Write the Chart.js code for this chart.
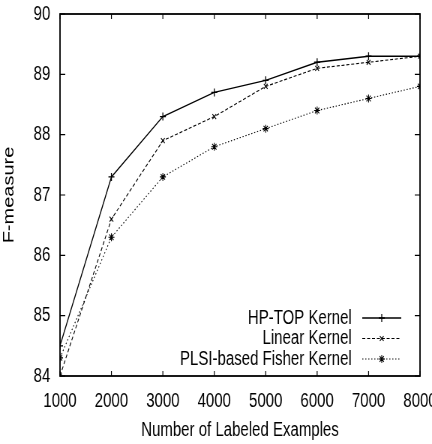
<!DOCTYPE html>
<html>
<head>
<meta charset="utf-8">
<script src="https://cdn.jsdelivr.net/npm/chart.js@4"></script>
<style>
	html, body { margin: 0; padding: 0; background: #fff; overflow: hidden; }
	/* drawn 576 wide then squeezed to 432, like the narrow original */
	#wrap { width: 576px; height: 444px; transform: scaleX(0.75); transform-origin: 0 0; }
</style>
</head>
<body>
<div id="wrap"><canvas id="chart-fmeasure"></canvas></div>
<script>
const EXAMPLES = [1000, 2000, 3000, 4000, 5000, 6000, 7000, 8000];
const HP_TOP = [84.5, 87.3, 88.3, 88.7, 88.9, 89.2, 89.3, 89.3];
const LINEAR = [84.0, 86.6, 87.9, 88.3, 88.8, 89.1, 89.2, 89.3];
const PLSI_FISHER = [84.3, 86.3, 87.3, 87.8, 88.1, 88.4, 88.6, 88.8];
const X_TICKS = [1000, 2000, 3000, 4000, 5000, 6000, 7000, 8000];
const Y_TICKS = [84, 85, 86, 87, 88, 89, 90];

const FONT = "'Liberation Sans', Arial, sans-serif";

const toPoints = (vals) => EXAMPLES.map((x, i) => ({ x: x, y: vals[i] }));

//------------------------------------------------------------
// Frame with inward ticks on all sides + gnuplot-like legend
//------------------------------------------------------------
const frameAndLegend = {
	id: "frameAndLegend",
	afterDatasetsDraw(chart) {
		const { ctx, chartArea: a, scales } = chart;
		ctx.save();
		ctx.strokeStyle = "#000";
		ctx.lineWidth = 1.8;
		ctx.strokeRect(a.left, a.top, a.right - a.left, a.bottom - a.top);
		ctx.lineWidth = 1.2;
		ctx.beginPath();
		X_TICKS.forEach((v) => {
			const px = scales.x.getPixelForValue(v);
			ctx.moveTo(px, a.bottom); ctx.lineTo(px, a.bottom - 5);
			ctx.moveTo(px, a.top); ctx.lineTo(px, a.top + 5);
		});
		Y_TICKS.forEach((v) => {
			const py = scales.y.getPixelForValue(v);
			ctx.moveTo(a.left, py); ctx.lineTo(a.left + 7, py);
			ctx.moveTo(a.right, py); ctx.lineTo(a.right - 7, py);
		});
		ctx.stroke();

		// legend, text right-aligned with a line sample to the right
		const textRight = a.right - 91;
		const lineL = a.right - 77;
		const lineR = a.right - 25;
		const rowH = 20.5;
		const y0 = a.bottom - 58;
		ctx.font = "20px " + FONT;
		ctx.textAlign = "right";
		ctx.textBaseline = "middle";
		ctx.fillStyle = "#000";
		chart.data.datasets.forEach((ds, i) => {
			const y = y0 + i * rowH;
			ctx.fillText(ds.label, textRight, y);
			ctx.beginPath();
			ctx.setLineDash(ds.borderDash || []);
			ctx.lineWidth = ds.borderWidth;
			ctx.moveTo(lineL, y); ctx.lineTo(lineR, y);
			ctx.stroke();
			ctx.setLineDash([]);
			Chart.helpers.drawPoint(ctx, { pointStyle: ds.pointStyle, radius: ds.pointRadius, borderWidth: 1.2 }, (lineL + lineR) / 2, y);
		});
		ctx.restore();
	},
};

const CHART_DATA = {
	datasets: [
		{
			label: "HP-TOP Kernel",
			data: toPoints(HP_TOP),
			borderColor: "#000",
			backgroundColor: "#000",
			borderWidth: 1.3,
			pointStyle: "cross",
			pointRadius: 4,
		},
		{
			label: "Linear Kernel",
			data: toPoints(LINEAR),
			borderColor: "#000",
			backgroundColor: "#000",
			borderWidth: 1.1,
			borderDash: [4, 2.5],
			pointStyle: "crossRot",
			pointRadius: 3.5,
		},
		{
			label: "PLSI-based Fisher Kernel",
			data: toPoints(PLSI_FISHER),
			borderColor: "#000",
			backgroundColor: "#000",
			borderWidth: 1.1,
			borderDash: [1.5, 2.5],
			pointStyle: "star",
			pointRadius: 4,
		},
	],
};

const CHART_CONFIG = {
	type: "line",
	data: CHART_DATA,
	plugins: [frameAndLegend],
	options: {
		responsive: true,
		maintainAspectRatio: false,
		animation: false,
		layout: {
			padding: { left: 0, right: 16, top: 14, bottom: 0 },
		},
		elements: {
			line: { tension: 0 },
			point: { borderWidth: 1.2, hoverRadius: 4 },
		},
		plugins: {
			legend: { display: false },
			title: { display: false },
			tooltip: { enabled: false },
		},
		scales: {
			x: {
				type: "linear",
				min: 1000,
				max: 8000,
				grid: { display: false, drawTicks: false },
				border: { display: false },
				ticks: {
					stepSize: 1000,
					padding: 13,
					color: "#000",
					maxRotation: 0,
					autoSkip: false,
					font: { family: FONT, size: 20 },
					callback: (v) => v,
				},
				title: {
					display: true,
					text: "Number of Labeled Examples",
					color: "#000",
					font: { family: FONT, size: 20 },
					padding: { top: 6, bottom: 2 },
				},
				afterFit: (scale) => {
					scale.height = 68;
					scale.paddingLeft = 0;
					scale.paddingRight = 0;
				},
			},
			y: {
				min: 84,
				max: 90,
				grid: { display: false, drawTicks: false },
				border: { display: false },
				ticks: {
					stepSize: 1,
					padding: 13,
					color: "#000",
					font: { family: FONT, size: 20 },
				},
				title: {
					display: true,
					text: "F-measure",
					color: "#000",
					font: { family: FONT, size: 20 },
					padding: { top: 0, bottom: 0 },
				},
				afterFit: (scale) => {
					scale.width = 80;
					scale.paddingTop = 0;
					scale.paddingBottom = 0;
				},
			},
		},
	},
};

new Chart(document.getElementById("chart-fmeasure"), CHART_CONFIG);
</script>
</body>
</html>
